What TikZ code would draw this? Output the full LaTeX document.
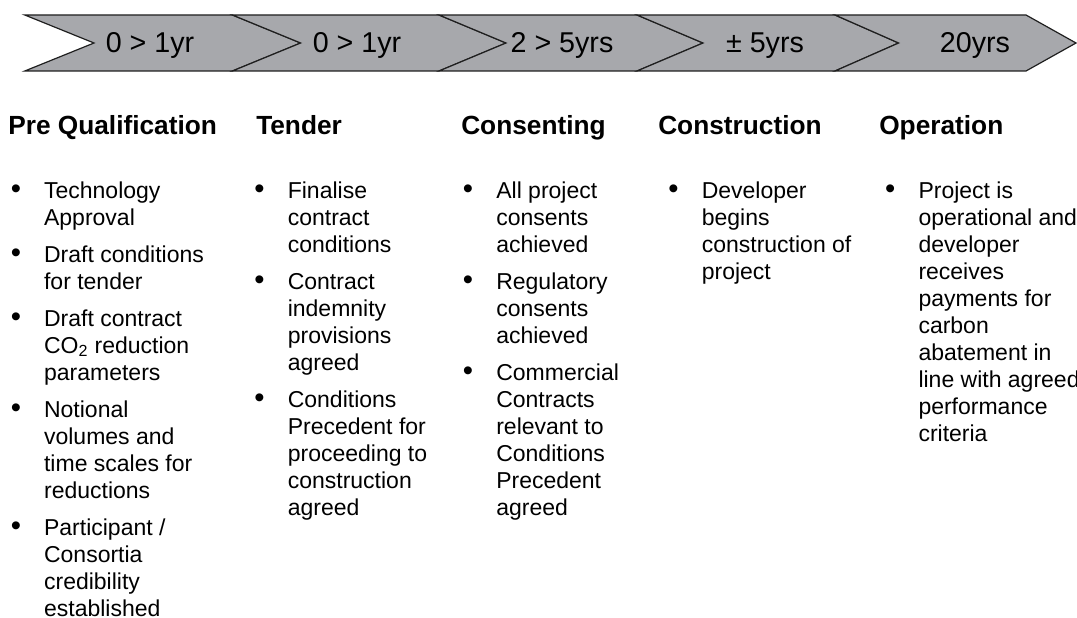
\documentclass[tikz,border=0pt]{standalone}
\usepackage{fontspec}
\setmainfont{Liberation Sans}
\usetikzlibrary{positioning}

\begin{document}
\begin{tikzpicture}[x=.75pt, y=-.75pt]
    \colorlet{rim}{black!88}
\definecolor{band}{RGB}{167,168,172}

\newcommand\bandtop{15}
\newcommand\bandmid{43}
\newcommand\bandbot{71}
\newcommand\bul{{\fontsize{21.9pt}{0pt}\selectfont\textbullet}}

\tikzset{
    slab/.style={
        draw=rim, fill=band,
        line width=.9pt, line join=miter,
    },
    period/.style={
        font=\fontsize{21.5pt}{24pt}\selectfont,
        inner sep=0pt, anchor=base,
    },
    phase/.style={
        font=\fontsize{19.7pt}{23pt}\selectfont\bfseries,
        inner sep=0pt, anchor=base west,
    },
    points/.style={
        font=\fontsize{17.25pt}{20.25pt}\selectfont,
        inner sep=0pt, anchor=base west,
    },
}

    \useasboundingbox (0, 0) rectangle (1077, 617);

    % the time band, one chevron per stage
    \foreach \xl/\xn/\xr/\xt in {24.8/94/232.4/300.6, 232.4/300.6/439/506,
            439/506/637/703, 637/703/835/898.6, 835/898.6/1026/1076}
        \draw[slab] (\xl, \bandtop) -- (\xr, \bandtop) -- (\xt, \bandmid)
            -- (\xr, \bandbot) -- (\xl, \bandbot) -- (\xn, \bandmid) -- cycle;

    \node[period] (prequal-time) at (150, 53) {0 > 1yr};
    \node[period] (tender-time) at (357, 53) {0 > 1yr};
    \node[period] (consent-time) at (562, 53) {2 > 5yrs};
    \node[period] (build-time) at (765, 53) {± 5yrs};
    \node[period] (operate-time) at (975, 53) {20yrs};

    \node[phase] (prequal) at (8, 134) {Pre Qualification};
    \node[phase] (tender) at (256, 134) {Tender};
    \node[phase] (consent) at (461, 134) {Consenting};
    \node[phase] (build) at (658, 134) {Construction};
    \node[phase] (operate) at (879, 134) {Operation};

    \node[points] (prequal-list) at (10.5, 198) {\begin{tabular}[t]{@{}p{25pt}@{}l@{}}
        \bul & Technology\\ & Approval\\[7.5pt]
        \bul & Draft conditions\\ & for tender\\[7.5pt]
        \bul & Draft contract\\ & CO\textsubscript{2} reduction\\ & parameters\\[7.5pt]
        \bul & Notional\\ & volumes and\\ & time scales for\\ & reductions\\[7.5pt]
        \bul & Participant /\\ & Consortia\\ & credibility\\ & established
    \end{tabular}};

    \node[points] (tender-list) at (254.2, 198) {\begin{tabular}[t]{@{}p{25pt}@{}l@{}}
        \bul & Finalise\\ & contract\\ & conditions\\[7.5pt]
        \bul & Contract\\ & indemnity\\ & provisions\\ & agreed\\[7.5pt]
        \bul & Conditions\\ & Precedent for\\ & proceeding to\\ & construction\\ & agreed
    \end{tabular}};

    \node[points] (consent-list) at (462.7, 198) {\begin{tabular}[t]{@{}p{25pt}@{}l@{}}
        \bul & All project\\ & consents\\ & achieved\\[7.5pt]
        \bul & Regulatory\\ & consents\\ & achieved\\[7.5pt]
        \bul & Commercial\\ & Contracts\\ & relevant to\\ & Conditions\\ & Precedent\\ & agreed
    \end{tabular}};

    \node[points] (build-list) at (668.2, 198) {\begin{tabular}[t]{@{}p{25pt}@{}l@{}}
        \bul & Developer\\ & begins\\ & construction of\\ & project
    \end{tabular}};

    \node[points] (operate-list) at (884.9, 198) {\begin{tabular}[t]{@{}p{25pt}@{}l@{}}
        \bul & Project is\\ & operational and\\ & developer\\ & receives\\ & payments for\\
            & carbon\\ & abatement in\\ & line with agreed\\ & performance\\ & criteria
    \end{tabular}};
\end{tikzpicture}
\end{document}
